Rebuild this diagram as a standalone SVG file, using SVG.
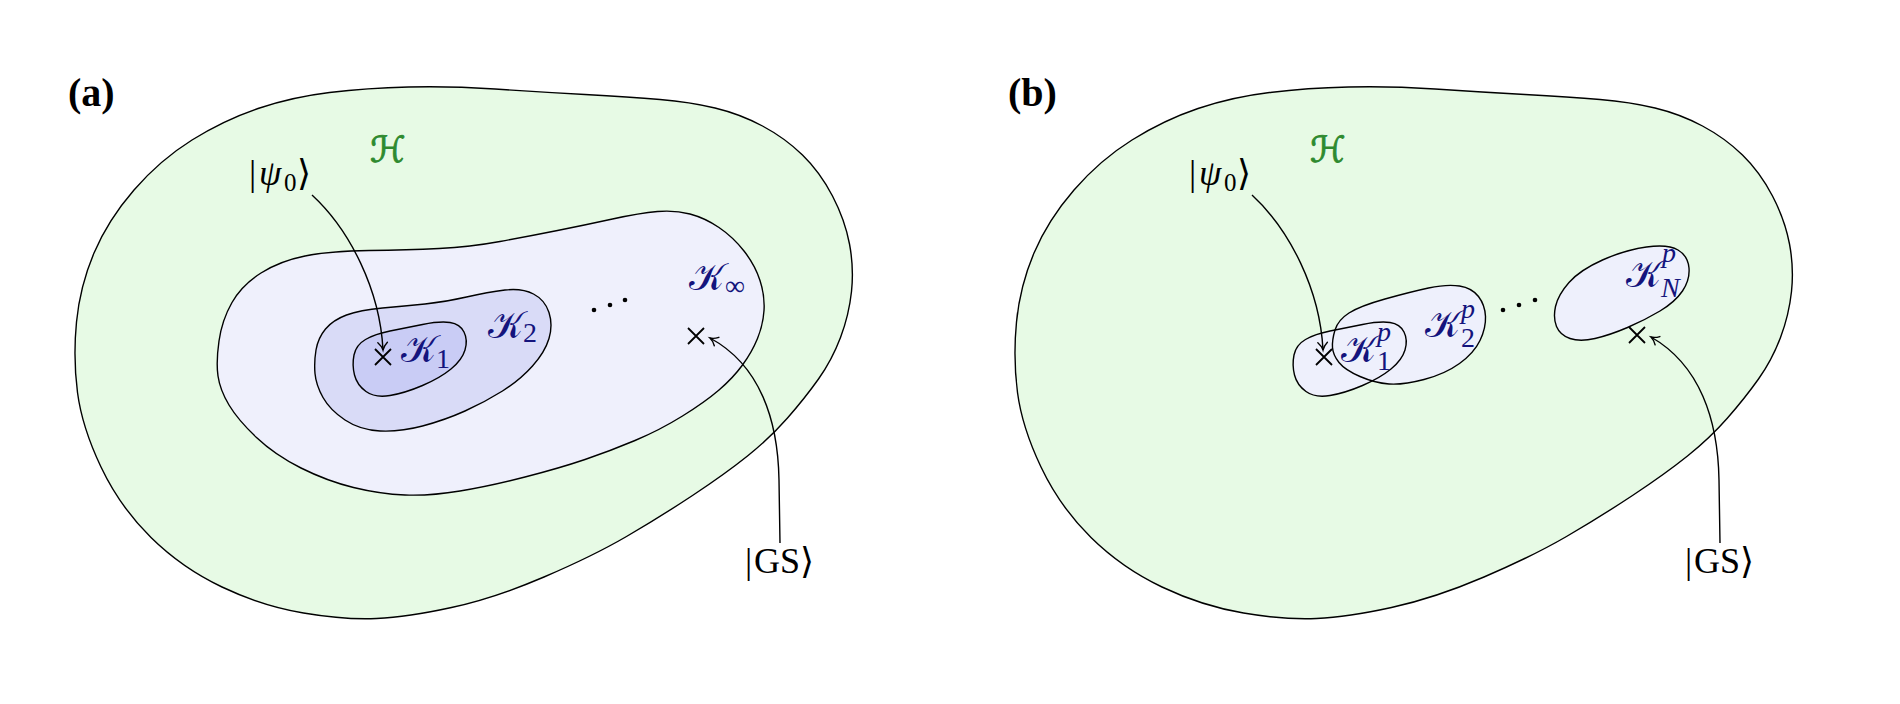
<svg xmlns="http://www.w3.org/2000/svg" xmlns:xlink="http://www.w3.org/1999/xlink" width="1900" height="704" viewBox="0 0 1900 704">
<style>
  .edge{stroke:#000;stroke-width:1.4;stroke-linejoin:round;stroke-linecap:round}
  .nofill{fill:none}
  .nostroke{stroke:none}
  .outer{fill:#e7fae5}
  .kinf{fill:#eff0fc}
  .k2{fill:#d9dbf7}
  .k1{fill:#c9ccf5}
  .kp{fill:#eef0fc}
  .conn{fill:none;stroke:#000;stroke-width:1.4}
  .cross{stroke:#000;stroke-width:1.8;fill:none}
  .dot{fill:#000}
  .math{font-family:"Liberation Serif","DejaVu Serif","DejaVu Sans",serif;fill:#000}
  .cal{font-family:"DejaVu Serif","DejaVu Sans","Liberation Serif",serif}
  .kl{fill:#14147d}
  .hl{fill:#2f8a2f;stroke:#2f8a2f;stroke-width:0.9}
  .panel{font-family:"Liberation Serif","DejaVu Serif",serif;font-weight:bold;font-size:40px;fill:#000}
</style>
<defs>
  <marker id="arr" markerUnits="userSpaceOnUse" markerWidth="20" markerHeight="20" refX="0" refY="0" viewBox="-10 -10 20 20" orient="auto" overflow="visible">
    <path d="M -7.5 -4.8 C -5 -2.2 -2.2 -0.6 0 0 C -2.2 0.6 -5 2.2 -7.5 4.8" fill="none" stroke="#000" stroke-width="1.4" stroke-linecap="round"/>
  </marker>
  <path id="outerShape" d="M 76.5 322 Q 80 286 94 253 Q 108 220 134 190 Q 160 160 192 140 Q 224 120 258 108.5 Q 292 97 329.5 92.5 Q 367 88 408.5 87 Q 450 86 495 89 Q 540 92 585 94.5 Q 630 97 660 99.5 Q 690 102 715 108 Q 740 114 762.5 126 Q 785 138 802.5 155 Q 820 172 832.5 196 Q 845 220 849.5 244 Q 854 268 851.5 291.5 Q 849 315 840.5 337.5 Q 832 360 818.5 379 Q 805 398 787.5 418 Q 770 438 747.5 456 Q 725 474 692.5 495.5 Q 660 517 626.5 536.5 Q 593 556 544 577 Q 495 598 451.5 607.5 Q 408 617 376.5 618.5 Q 345 620 303.5 613 Q 262 606 222 587 Q 182 568 151 537.5 Q 120 507 101 467 Q 82 427 77.5 392.5 Q 73 358 76.5 322 Z"/>
  <path id="k1Shape" d="M 354 355 Q 356 345 365.5 339.5 Q 375 334 390 331 Q 405 328 422.5 324.5 Q 440 321 450 322.5 Q 460 324 464 332 Q 468 340 465 350 Q 462 360 451 369 Q 440 378 422.5 385.5 Q 405 393 390 395.5 Q 375 398 366 391.5 Q 357 385 354.5 375 Q 352 365 354 355 Z"/>
  <path id="k2pShape" d="M 1335 330 Q 1338 320 1349 313 Q 1360 306 1385 299 Q 1410 292 1428.5 288 Q 1447 284 1459.5 286 Q 1472 288 1478.5 296.5 Q 1485 305 1485.5 316.5 Q 1486 328 1480 340.5 Q 1474 353 1459.5 363.5 Q 1445 374 1424 379.5 Q 1403 385 1389 384 Q 1375 383 1360 376.5 Q 1345 370 1339 362.5 Q 1333 355 1332.5 347.5 Q 1332 340 1335 330 Z"/>
  <path id="crossShape" d="M -8 -8 L 8 8 M -8 8 L 8 -8"/>
</defs>

<!-- Panel (a) -->
<g id="panel-a">
  <g id="label-a"><text class="panel" x="68" y="106">(a)</text></g>
  <g id="a-H">
    <use xlink:href="#outerShape" class="outer edge"/>
    <text class="cal hl" x="370" y="162" font-size="36">ℋ</text>
  </g>
  <g id="a-Kinf">
    <path class="kinf edge" d="M 219 341 Q 222 320 232 302.5 Q 242 285 261 273 Q 280 261 305 256 Q 330 251 369 250.5 Q 408 250 439 248.5 Q 470 247 500 241.5 Q 530 236 557.5 230.5 Q 585 225 612.5 219 Q 640 213 657.5 211.5 Q 675 210 690 214 Q 705 218 719 227.5 Q 733 237 744 251 Q 755 265 760 280.5 Q 765 296 764 310.5 Q 763 325 757.5 338.5 Q 752 352 742.5 365 Q 733 378 719 390 Q 705 402 682.5 416 Q 660 430 635 440.5 Q 610 451 585 459.5 Q 560 468 525 477 Q 490 486 460 491 Q 430 496 405 495 Q 380 494 353.5 487.5 Q 327 481 301 468 Q 275 455 256.5 437.5 Q 238 420 229 405 Q 220 390 218 376 Q 216 362 219 341 Z"/>
    <text class="cal kl" x="689" y="290" font-size="38">𝒦<tspan class="math kl" dx="1" dy="5" font-size="28">∞</tspan></text>
  </g>
  <g id="a-K2">
    <path class="k2 edge" d="M 316 350 Q 318 338 325.5 329 Q 333 320 346.5 315 Q 360 310 382.5 308 Q 405 306 425 304 Q 445 302 466.5 297 Q 488 292 505 290 Q 522 288 533.5 294 Q 545 300 549 312.5 Q 553 325 549 338.5 Q 545 352 532.5 366 Q 520 380 502.5 391 Q 485 402 465 411 Q 445 420 422.5 426 Q 400 432 380 431 Q 360 430 345 420 Q 330 410 323 397.5 Q 316 385 315 373.5 Q 314 362 316 350 Z"/>
    <text class="cal kl" x="488" y="338" font-size="38">𝒦<tspan class="math kl" dx="0" dy="4" font-size="28">2</tspan></text>
  </g>
  <g id="a-K1">
    <use xlink:href="#k1Shape" class="k1 edge"/>
    <text class="cal kl" x="401" y="362" font-size="38">𝒦<tspan class="math kl" dx="0" dy="6" font-size="28">1</tspan></text>
  </g>
  <g id="a-psi0">
    <text class="math" font-size="36"><tspan x="249" y="185">|</tspan><tspan x="259" y="185" font-style="italic">ψ</tspan><tspan x="284" y="191" font-size="25">0</tspan><tspan x="297" y="185">⟩</tspan></text>
  </g>
  <g id="a-GS">
    <text class="math" font-size="36"><tspan x="745" y="573">|</tspan><tspan x="754" y="573">GS</tspan><tspan x="800" y="573">⟩</tspan></text>
  </g>
  <g id="a-start"><use xlink:href="#crossShape" class="cross" transform="translate(383,357)"/></g>
  <g id="a-ground"><use xlink:href="#crossShape" class="cross" transform="translate(696,336)"/></g>
  <g id="a-dots">
    <circle class="dot" cx="594" cy="310" r="2.3"/>
    <circle class="dot" cx="610" cy="305" r="2.3"/>
    <circle class="dot" cx="625" cy="300" r="2.3"/>
  </g>
</g>

<!-- Panel (b) -->
<g id="panel-b">
  <g id="label-b"><text class="panel" x="1008" y="106">(b)</text></g>
  <g id="b-H">
    <use xlink:href="#outerShape" class="outer edge" transform="translate(940,0)"/>
    <text class="cal hl" x="1310" y="162" font-size="36">ℋ</text>
  </g>
  <g id="b-Kp-fills">
    <use xlink:href="#k1Shape" class="kp nostroke" transform="translate(940,0)"/>
    <use xlink:href="#k2pShape" class="kp nostroke"/>
  </g>
  <g id="b-K1p">
    <use xlink:href="#k1Shape" class="edge nofill" transform="translate(940,0)"/>
    <text class="cal kl" x="1341" y="362" font-size="38">𝒦<tspan class="math kl" dx="1" dy="-21" font-size="28" font-style="italic">p</tspan><tspan class="math kl" dx="-14" dy="29" font-size="28">1</tspan></text>
  </g>
  <g id="b-K2p">
    <use xlink:href="#k2pShape" class="edge nofill"/>
    <text class="cal kl" x="1425" y="337" font-size="38">𝒦<tspan class="math kl" dx="1" dy="-19" font-size="28" font-style="italic">p</tspan><tspan class="math kl" dx="-14" dy="29" font-size="28">2</tspan></text>
  </g>
  <g id="b-KNp">
    <path class="kp edge" d="M 1555.5 306.5 Q 1558 295 1569 282.5 Q 1580 270 1602.5 260 Q 1625 250 1646.5 247 Q 1668 244 1678 250 Q 1688 256 1689 268 Q 1690 280 1682.5 291 Q 1675 302 1660 311 Q 1645 320 1627.5 327.5 Q 1610 335 1595 338.5 Q 1580 342 1570 338.5 Q 1560 335 1556.5 326.5 Q 1553 318 1555.5 306.5 Z"/>
    <text class="cal kl" x="1626" y="287" font-size="38">𝒦<tspan class="math kl" dx="1" dy="-25" font-size="28" font-style="italic">p</tspan><tspan class="math kl" dx="-15" dy="35" font-size="28" font-style="italic">N</tspan></text>
  </g>
  <g id="b-psi0">
    <text class="math" font-size="36"><tspan x="1189" y="185">|</tspan><tspan x="1199" y="185" font-style="italic">ψ</tspan><tspan x="1224" y="191" font-size="25">0</tspan><tspan x="1237" y="185">⟩</tspan></text>
  </g>
  <g id="b-GS">
    <text class="math" font-size="36"><tspan x="1685" y="573">|</tspan><tspan x="1694" y="573">GS</tspan><tspan x="1740" y="573">⟩</tspan></text>
  </g>
  <g id="b-start"><use xlink:href="#crossShape" class="cross" transform="translate(1324,357)"/></g>
  <g id="b-ground"><use xlink:href="#crossShape" class="cross" transform="translate(1637,335)"/></g>
  <g id="b-dots">
    <circle class="dot" cx="1503" cy="310" r="2.3"/>
    <circle class="dot" cx="1519" cy="305" r="2.3"/>
    <circle class="dot" cx="1535" cy="300" r="2.3"/>
  </g>
</g>

<!-- Connectors -->
<g id="connectors">
  <path class="conn" marker-end="url(#arr)" d="M 312 195 C 350 230 380 290 383 350"/>
  <path class="conn" marker-end="url(#arr)" d="M 780 543 L 779 480 C 778 420 760 365 710 338"/>
  <path class="conn" marker-end="url(#arr)" d="M 1252 195 C 1290 230 1320 290 1323 350"/>
  <path class="conn" marker-end="url(#arr)" d="M 1720 543 L 1719 480 C 1718 420 1700 365 1651 337"/>
</g>
</svg>
